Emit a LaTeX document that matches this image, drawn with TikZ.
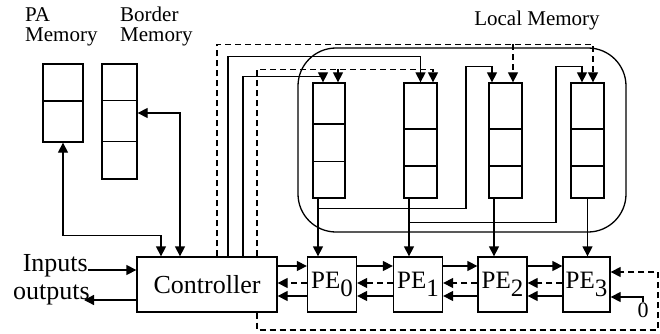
\documentclass[tikz,border=0pt]{standalone}
\usepackage{fontspec}
\setmainfont{Liberation Serif}
\usetikzlibrary{arrows.meta,calc}
\newcommand\memdiv[2]{\draw[ln] ($(#1.north west)!#2!(#1.south west)$) -- ($(#1.north east)!#2!(#1.south east)$);}
\tikzset{
  ln/.style={line width=1.3pt},
  arr/.style={ln, -{Triangle[length=10pt,width=10pt]}},
  darr/.style={ln, {Triangle[length=10pt,width=10pt]}-{Triangle[length=10pt,width=10pt]}},
  dsh/.style={dash pattern=on 6pt off 4pt},
  box/.style={draw, ln, inner sep=0pt},
  memcol/.style={box, minimum width=33pt, minimum height=115pt},
  pebox/.style={box, minimum width=49pt, minimum height=55pt, font=\fontsize{25}{27}\selectfont},
  lbl/.style={font=\fontsize{21}{20}\selectfont, inner sep=0pt, align=left},
  big/.style={font=\fontsize{26}{28}\selectfont, inner sep=0pt},
}
\begin{document}
\begin{tikzpicture}[x=1pt,y=-1pt]
\useasboundingbox (0,0) rectangle (660,334);

% labels
\node[lbl, anchor=north west] (palbl) at (25,7) {PA\\Memory};
\node[lbl, anchor=north west] (bmlbl) at (120,7) {Border\\Memory};
\node[lbl] (lmlbl) at (537,20) {Local Memory};

% memories
\node[box, minimum width=40pt, minimum height=78pt] (pa) at (63,103) {};
\memdiv{pa}{0.474}
\node[box, minimum width=35pt, minimum height=115pt] (bm) at (119.5,121.5) {};
\memdiv{bm}{0.32}
\memdiv{bm}{0.67}

\node[draw, ln, rounded corners=38pt, minimum width=328pt, minimum height=184pt] (lmbox) at (462,140) {};

\node[memcol, minimum width=32pt] (lm0) at (329,140.5) {};
\node[memcol] (lm1) at (420.5,140.5) {};
\node[memcol] (lm2) at (505.5,140.5) {};
\node[memcol] (lm3) at (587.5,140.5) {};
\memdiv{lm0}{0.357}
\memdiv{lm0}{0.678}
\foreach \n in {lm1,lm2,lm3}{\memdiv{\n}{0.4}\memdiv{\n}{0.72}}

% controller and PEs
\node[box, big, minimum width=140pt, minimum height=55pt] (ctrl) at (207,284.5) {Controller};
\node[pebox] (pe0) at (332,284.5) {PE\raisebox{-8pt}{0}};
\node[pebox] (pe1) at (418,284.5) {PE\raisebox{-8pt}{1}};
\node[pebox] (pe2) at (502.5,284.5) {PE\raisebox{-8pt}{2}};
\node[pebox, minimum width=47pt] (pe3) at (586.5,284.5) {PE\raisebox{-8pt}{3}};

% inputs / outputs
\node[big, anchor=east] (inputs) at (88,266) {Inputs};
\node[big, anchor=east] (outputs) at (90,294.5) {outputs};
\coordinate (oend) at (84,300);
\draw[arr] ([yshift=-4pt]inputs.east) -- ([yshift=-4pt]inputs.east -| ctrl.west);
\draw[arr] ([yshift=-15.5pt]ctrl.west) -- (oend);

% PE chain
\foreach \a/\b in {ctrl/pe0,pe0/pe1,pe1/pe2,pe2/pe3}{
  \draw[arr] ([yshift=18.5pt]\a.east) -- ([yshift=18.5pt]\b.west);
  \draw[arr,dsh] ([yshift=1.5pt]\b.west) -- ([yshift=1.5pt]\a.east);
  \draw[arr] ([yshift=-11.5pt]\b.west) -- ([yshift=-11.5pt]\a.east);
}

% PA and Border memory to controller
\draw[darr] (pa.south) -- ++(0,93) -| ([xshift=-46pt]ctrl.north);
\draw[darr] ([yshift=8.5pt]bm.east) -| ([xshift=-27pt]ctrl.north);

% controller to local memories
\draw[arr,dsh] ([xshift=10pt]ctrl.north) |- ([xshift=5.5pt,yshift=38pt]lm3.north) -- ([xshift=5.5pt]lm3.north);
\draw[arr,dsh] ([xshift=7.5pt,yshift=38pt]lm2.north) -- ([xshift=7.5pt]lm2.north);
\draw[arr] ([xshift=21pt]ctrl.north) |- ([yshift=26pt]lm1.north) -- (lm1.north);
\draw[arr] ([xshift=36pt]ctrl.north) |- ([xshift=-6pt,yshift=6pt]lm0.north) -- ([xshift=-6pt]lm0.north);
\draw[arr,dsh] ([xshift=50pt]ctrl.north) |- ([xshift=12.5pt,yshift=13pt]lm1.north) -- ([xshift=12.5pt]lm1.north);
\draw[arr,dsh] ([xshift=9pt,yshift=13pt]lm0.north) -- ([xshift=9pt]lm0.north);

% local memories to PEs
\coordinate (j0) at ([xshift=-11pt]lm0.south);
\coordinate (j1) at ([xshift=-11.5pt]lm1.south);
\coordinate (j2) at ([xshift=-11.5pt]lm2.south);
\draw[arr] (j0) -- (j0 |- pe0.north);
\draw[arr] (j1) -- (j1 |- pe1.north);
\draw[arr] (j2) -- (j2 |- pe2.north);
\draw[arr] (lm3.south) -- (lm3.south |- pe3.north);

% loops back to local memory tops
\draw[arr] ([yshift=-10pt]j0) -| ([xshift=-39.5pt,yshift=16pt]lm2.north) -| ([xshift=-13.5pt]lm2.north);
\draw[arr] ([yshift=-24pt]j1) -| ([xshift=-31.5pt,yshift=16pt]lm3.north) -| ([xshift=-5.5pt]lm3.north);

% dashed loop to PE3 and zero input
\coordinate (lp) at (658,330);
\draw[arr,dsh] ([xshift=50pt]ctrl.south) |- (lp) |- ([yshift=12.5pt]pe3.east);
\node[font=\fontsize{22}{24}\selectfont, inner sep=0pt] (zero) at (643,310) {0};
\draw[arr] (zero.north) |- ([yshift=-12.5pt]pe3.east);
\end{tikzpicture}
\end{document}
